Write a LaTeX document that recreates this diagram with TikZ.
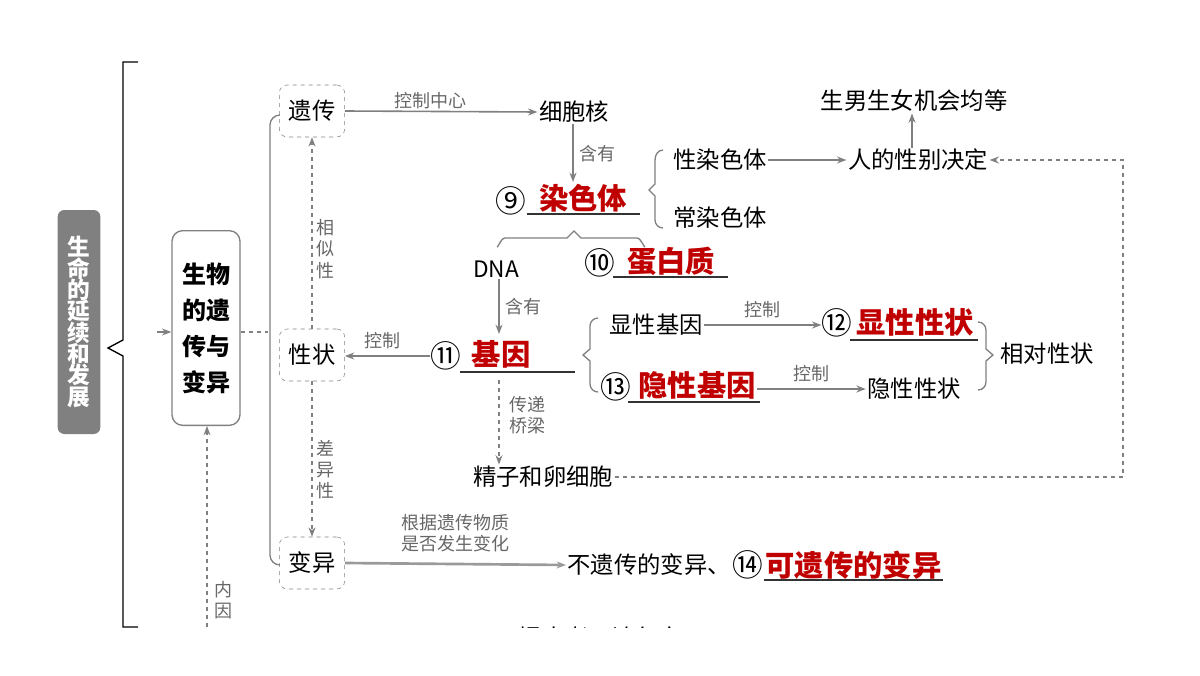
\documentclass[tikz,border=0pt]{standalone}
\usepackage{fontspec}
\setmainfont{Noto Sans CJK SC}
\usetikzlibrary{arrows.meta}
\definecolor{gl}{RGB}{128,128,128}
\definecolor{rd}{RGB}{192,0,0}
\begin{document}
\begin{tikzpicture}[x=0.75pt,y=-0.75pt,
  lbl/.style={font=\fontsize{17.5}{20}\selectfont,inner sep=1pt},
  cn/.style={font=\fontsize{23}{24}\selectfont,inner sep=0pt},
  sm/.style={font=\fontsize{13.5}{16}\selectfont,text=gl!80!black,inner sep=1pt},
  red/.style={font=\fontsize{22}{24}\selectfont\bfseries,text=rd,inner sep=1pt},
  dbox/.style={draw=gl,dashed,rounded corners=6pt,minimum width=49pt,minimum height=39pt,font=\fontsize{17.5}{20}\selectfont},
  arr/.style={draw=gl,line width=1.2pt,-{Stealth[length=7pt]}},
  darr/.style={draw=gl,dashed,line width=0.9pt,-{Stealth[length=7pt]}},
  ul/.style={draw=black!80,line width=0.9pt},
  br/.style={draw=gl,line width=1pt}]
\useasboundingbox (0,0) rectangle (1200,675);
% left brace
\draw[line width=1pt] (138,62) -- (123,62) -- (123,340) -- (108,348) -- (123,356) -- (123,627) -- (138,627);
% title
\node[fill=gl,rounded corners=5pt,minimum width=32pt,minimum height=168pt,inner sep=0pt] (title) at (79,322) {};
\node[text=white,font=\fontsize{17}{20}\selectfont\bfseries,align=center] at (79,322) {生\\[-4pt]命\\[-4pt]的\\[-4pt]延\\[-4pt]续\\[-4pt]和\\[-4pt]发\\[-4pt]展};
\coordinate (pin) at (157,332);
% main box
\node[draw=gl,line width=1pt,rounded corners=8pt,minimum width=51pt,minimum height=146pt,align=center,font=\fontsize{18}{27}\selectfont\bfseries] (main) at (206,328) {生物\\的遗\\传与\\变异};
\draw[arr,line width=1pt] (pin) -- (main.west|-pin);
% brace
\coordinate (bj) at (268,332);
\draw[gl,dashed,line width=1pt] (main.east|-bj) -- (bj);
\draw[br] (280,115) to[out=180,in=90] (270,125) -- (270,555) to[out=-90,in=180] (280,565);
% boxes
\node[dbox] (yc) at (312,111) {遗传};
\node[dbox] (xz) at (312,355) {性状};
\node[dbox] (by) at (312,563) {变异};
\draw[darr] (xz.north) -- (yc.south) node[sm,midway,right,align=center,xshift=2pt,yshift=-12pt] {相\\似\\性};
\draw[darr] (xz.south) -- (by.north) node[sm,midway,right,align=center,xshift=2pt,yshift=-8pt] {差\\异\\性};
\coordinate (nb) at (207,627);
\draw[darr] (nb) -- (nb|-main.south);
\node[sm,align=center] at (223,600) {内\\因};
% right part
\node[lbl] (xbh) at (574,112) {细胞核};
\draw[arr] (yc.east) -- (xbh.west) node[sm,midway,above,xshift=-8pt] {控制中心};
\node[cn] (c9) at (511,201) {⑨};
\node[red] (rst) at (583,198) {染色体};
\draw[ul] (527,214) -- (640,214);
\draw[arr] (xbh.south-|573,0) -- (573,182) node[sm,midway,right,xshift=3pt] {含有};
\draw[br] (663,150) to[out=180,in=90] (655,160) -- (655,184) -- (649,190) -- (655,196) -- (655,220) to[out=-90,in=180] (663,228);
\node[lbl] (xrst) at (720,160) {性染色体};
\node[lbl] (crst) at (720,218) {常染色体};
\node[lbl] (xbjd) at (918,160) {人的性别决定};
\draw[arr] (xrst.east) -- (xbjd.west);
\node[lbl] (snsn) at (914,101) {生男生女机会均等};
\draw[arr] (xbjd.north-|912,0) -- (snsn.south-|912,0);
% horizontal brace
\draw[br] (497,246) to[out=-90,in=180] (505,238) -- (567,238) -- (574,231) -- (581,238) -- (637,238) to[out=0,in=-90] (645,246);
\node[lbl,font=\fontsize{17}{18}\selectfont\rmfamily] (dna) at (496,269) {DNA};
\node[cn] (c10) at (600,263) {⑩};
\node[red] (dbz) at (671,261) {蛋白质};
\draw[ul] (613,277) -- (728,277);
\node[cn] (c11) at (446,356) {⑪};
\node[red] (jy) at (501,354) {基因};
\draw[ul] (460,372) -- (575,372);
\draw[arr] (dna.south-|499,0) -- (499,334) node[sm,midway,right,xshift=3pt] {含有};
\draw[arr] (c11.west) -- (xz.east|-c11) node[sm,midway,above,xshift=-4pt,yshift=4pt] {控制};
\node[lbl] (jz) at (543,477) {精子和卵细胞};
\draw[darr] (499,380) -- (jz.north-|499,0);
\node[sm,align=center] at (527,415) {传递\\桥梁};
\coordinate (rc) at (1123,477);
\draw[darr] (jz.east) -- (rc) -- (rc|-xbjd) -- (xbjd.east);
% gene brace
\draw[br] (598,318) to[out=180,in=90] (590,326) -- (590,349) -- (583,355) -- (590,361) -- (590,384) to[out=-90,in=180] (598,392);
\node[lbl] (xxjy) at (656,325) {显性基因};
\node[cn] (c12) at (837,323) {⑫};
\node[red] (xxxz) at (915,322) {显性性状};
\draw[ul] (850,340) -- (978,340);
\draw[arr] (xxjy.east) -- (c12.west|-xxjy) node[sm,midway,above,yshift=4pt] {控制};
\node[cn] (c13) at (616,387) {⑬};
\node[red] (yxjy) at (697,385) {隐性基因};
\draw[ul] (628,402) -- (760,402);
\node[lbl] (yxxz) at (914,389) {隐性性状};
\draw[arr] (yxjy.east|-yxxz) -- (yxxz.west) node[sm,midway,above,yshift=4pt] {控制};
\draw[br] (978,322) to[out=0,in=90] (986,330) -- (986,349) -- (993,355) -- (986,361) -- (986,382) to[out=-90,in=0] (978,390);
\node[lbl] (xdxz) at (1047,354) {相对性状};
% variation
\node[lbl,anchor=west] (bycc) at (566,565) {不遗传的变异、};
\node[cn,anchor=west] (c14) at (bycc.east) {⑭};
\node[red,anchor=west] (kyc) at (c14.east) {可遗传的变异};
\draw[ul] (kyc.west|-0,580) -- (kyc.east|-0,580);
\draw[arr,line width=2pt,gl!80] (by.east) -- (bycc.west);
\node[sm,align=center] at (455,533) {根据遗传物质\\是否发生变化};
\begin{scope}
\clip (400,600) rectangle (800,627);
\node[lbl] (tcz) at (590,638) {—提出者、达尔文};
\end{scope}
\end{tikzpicture}
\end{document}
